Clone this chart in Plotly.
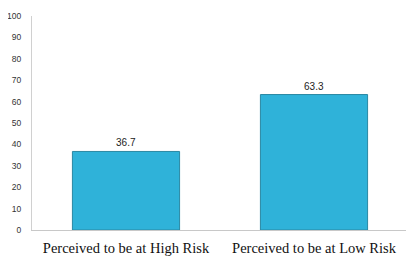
import plotly.graph_objects as go

categorias = ["Perceived to be at High Risk", "Perceived to be at Low Risk"]
porcentajes = [36.7, 63.3]
ticks_y = [0, 10, 20, 30, 40, 50, 60, 70, 80, 90, 100]

fig = go.Figure()
fig.add_trace(go.Bar(x=categorias, y=porcentajes,
                     text=[f"{v:.1f}" for v in porcentajes],
                     textposition="outside",
                     textfont=dict(family="Liberation Sans, Arial", size=10, color="#222"),
                     cliponaxis=False,
                     marker=dict(color="#2fb2d9", line=dict(color="#2a88a3", width=1))))

# la pagina tiene 8px de margen en el body, se compensa aca
fig.update_layout(template=None, width=406, height=253,
                  margin=dict(l=24, r=6, t=8, b=31),
                  paper_bgcolor="white", plot_bgcolor="white",
                  bargap=0.43, showlegend=False)
fig.update_xaxes(showline=True, linecolor="#c8c8c8", linewidth=1, showgrid=False,
                 ticks="", ticklabelstandoff=5,
                 tickfont=dict(family="Liberation Serif, Times New Roman", size=14.5, color="#111"))
fig.update_yaxes(range=[0, 100], tickvals=ticks_y, showline=True, linecolor="#d0d0d0", linewidth=1,
                 showgrid=False, zeroline=False, ticks="", ticklabelstandoff=8,
                 tickfont=dict(family="Liberation Sans, Arial", size=8.5, color="#333"))

fig.write_html("out.html")
